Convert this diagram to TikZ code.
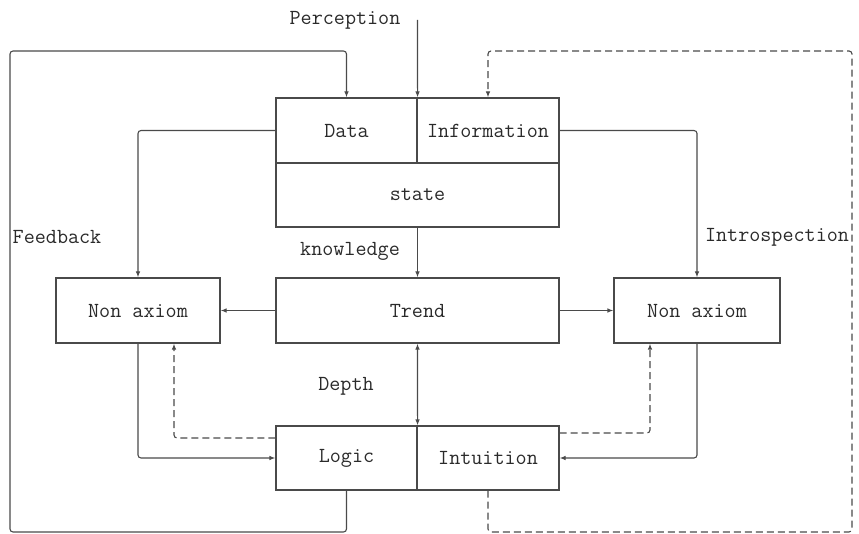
\documentclass[tikz,border=0pt]{standalone}
\usepackage{fontspec}
\usetikzlibrary{arrows.meta}
\definecolor{ln}{HTML}{4A4A4A}
\definecolor{tx}{HTML}{2A2A2A}
\tikzset{
  box/.style={draw=ln, line width=1.1pt, rectangle, inner sep=0pt, text=tx, font=\ttfamily\fontsize{21.5}{24}\selectfont},
  lbl/.style={text=tx, inner sep=0pt, font=\ttfamily\fontsize{21.5}{24}\selectfont},
  conn/.style={draw=ln, line width=1.1pt, -{Latex[length=6pt,width=4.5pt]}},
  dconn/.style={conn, dash pattern=on 7pt off 4pt},
}
\begin{document}
\begin{tikzpicture}[x=1pt,y=-1pt]
\useasboundingbox (0,0) rectangle (859,534);
% boxes
\node[box, minimum width=141pt, minimum height=65pt] (data) at (346.5,130.5) {Data};
\node[box, minimum width=142pt, minimum height=65pt] (info) at (488,130.5) {Information};
\node[box, minimum width=283pt, minimum height=64pt] (state) at (417.5,195) {state};
\node[box, minimum width=283pt, minimum height=65pt] (trend) at (417.5,310.5) {Trend};
\node[box, minimum width=164pt, minimum height=65pt] (nonL) at (138,310.5) {Non axiom};
\node[box, minimum width=166pt, minimum height=65pt] (nonR) at (697,310.5) {Non axiom};
\node[box, minimum width=141pt, minimum height=64pt] (logic) at (346.5,458) {Logic};
\node[box, minimum width=142pt, minimum height=64pt] (intu) at (488,458) {Intuition};
% labels
\node[lbl] (perc) at (345,20) {Perception};
\node[lbl] (fb) at (57,237) {Feedback};
\node[lbl] (intro) at (777,237) {Introspection};
\node[lbl] (know) at (350,251) {knowledge};
\node[lbl] (depth) at (346,386) {Depth};
% coordinates
\coordinate (pin) at (417.5,20);
\coordinate (fbBL) at (10,532);
\coordinate (fbTL) at (10,51);
\coordinate (inBR) at (852,532);
\coordinate (inTR) at (852,51);
% connectors
\draw[conn] (pin) -- (data.north east);
\draw[conn, rounded corners=3pt] (logic.south) |- (fbBL) -- (fbTL) -| (data.north);
\draw[dconn, rounded corners=3pt] (intu.south) |- (inBR) -- (inTR) -| (info.north);
\draw[conn, rounded corners=3pt] (data.west) -| (nonL.north);
\draw[conn, rounded corners=3pt] (info.east) -| (nonR.north);
\draw[conn] (state.south) -- (trend.north);
\draw[conn] (trend.west) -- (nonL.east);
\draw[conn] (trend.east) -- (nonR.west);
\draw[conn, {Latex[length=6pt,width=4.5pt]}-{Latex[length=6pt,width=4.5pt]}] (trend.south) -- (logic.north east);
\draw[conn, rounded corners=3pt] (nonL.south) |- (logic.west);
\draw[conn, rounded corners=3pt] (nonR.south) |- (intu.east);
\draw[dconn, rounded corners=3pt] ([yshift=20pt]logic.west) -| ([xshift=36pt]nonL.south);
\draw[dconn, rounded corners=3pt] ([yshift=25pt]intu.east) -| ([xshift=-47pt]nonR.south);
\end{tikzpicture}
\end{document}
